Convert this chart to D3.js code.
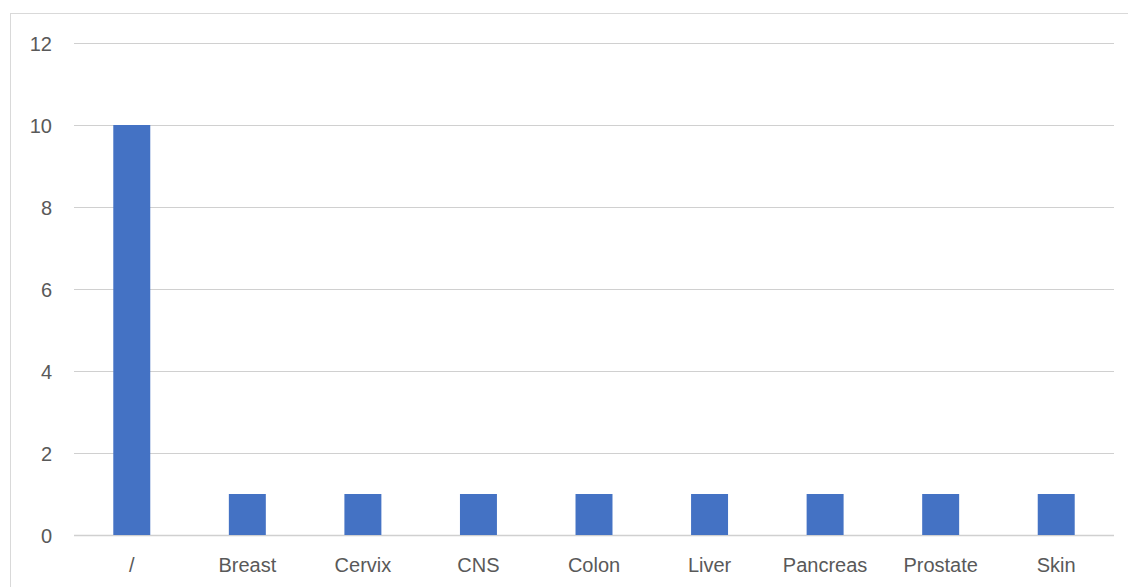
<!DOCTYPE html>
<html><head><meta charset="utf-8">
<script src="https://cdn.jsdelivr.net/npm/d3@7"></script>
<style>body{margin:0;background:#fff}svg{display:block}</style>
</head><body>
<script>
const categories = ["/", "Breast", "Cervix", "CNS", "Colon", "Liver", "Pancreas", "Prostate", "Skin"];
const values = [10, 1, 1, 1, 1, 1, 1, 1, 1];
const yTicks = [0, 2, 4, 6, 8, 10, 12];

(function () {
const W = 1128, H = 587;
const svg = d3.select("body").append("svg").attr("width", W).attr("height", H);
svg.append("rect").attr("x", 10.5).attr("y", 13.5).attr("width", W).attr("height", H)
  .attr("fill", "#fff").attr("stroke", "#d9d9d9").attr("stroke-width", 1);

const mLeft = 74, mRight = 1114, mTop = 43, mBottom = 535;
const x = d3.scaleBand().domain(categories).range([mLeft, mRight]).paddingInner(0.68).paddingOuter(0.34);
const y = d3.scaleLinear().domain([0, 12]).range([mBottom, mTop]);

const grid = svg.append("g");
grid.selectAll("line").data(yTicks).join("line")
  .attr("x1", mLeft).attr("x2", mRight)
  .attr("y1", d => Math.round(y(d)) + 0.5).attr("y2", d => Math.round(y(d)) + 0.5)
  .attr("stroke", "#d0d0d0").attr("stroke-width", d => d === 0 ? 1.5 : 1.2);

svg.append("g").selectAll("rect").data(values).join("rect")
  .attr("x", (d, i) => x(categories[i]))
  .attr("width", x.bandwidth())
  .attr("y", d => y(d))
  .attr("height", d => y(0) - y(d))
  .attr("fill", "#4472C4");

const font = "'Liberation Sans', Arial, sans-serif";
const yAxis = d3.axisLeft(y).tickValues(yTicks).tickSize(0).tickPadding(0);
const ga = svg.append("g").attr("transform", `translate(52,0)`).call(yAxis);
ga.select(".domain").remove();
ga.selectAll("text").attr("font-family", font).attr("font-size", 20).attr("fill", "#595959").attr("dy", "0.35em");

const xAxis = d3.axisBottom(x).tickSize(0).tickPadding(0);
const gx = svg.append("g").attr("transform", `translate(0,${mBottom})`).call(xAxis);
gx.select(".domain").remove();
gx.selectAll("text").attr("font-family", font).attr("font-size", 20).attr("fill", "#595959").attr("dy", null).attr("y", 37);
})();
</script>
</body></html>
